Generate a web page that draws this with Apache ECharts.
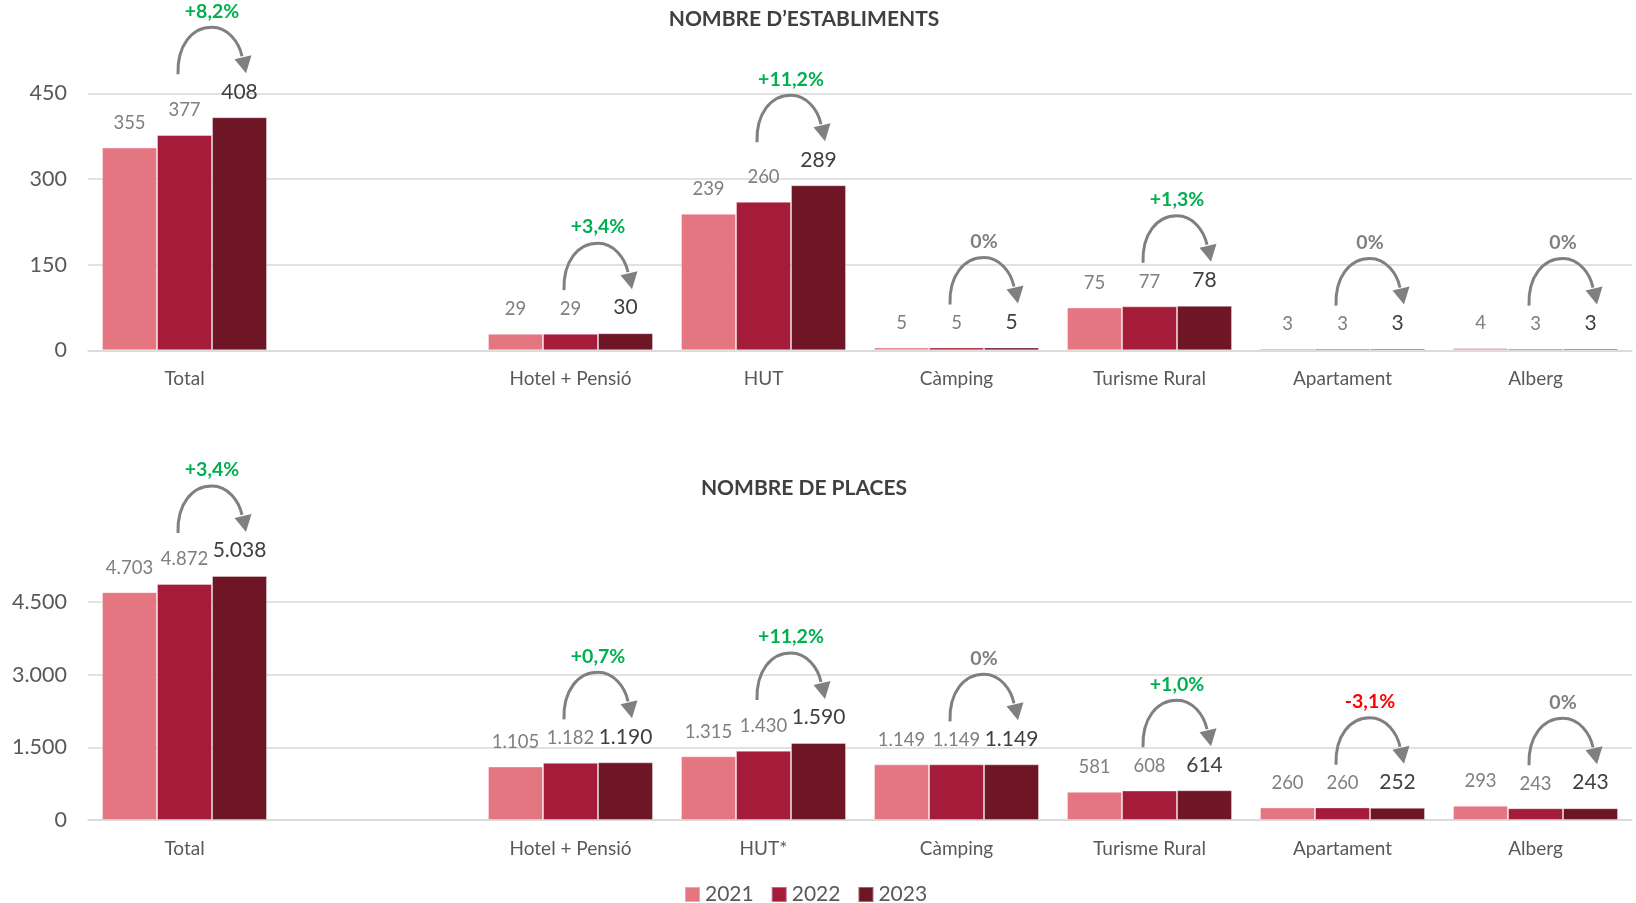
<!doctype html>
<html>
<head>
<meta charset="UTF-8">
<title>Nombre d'establiments i places</title>
<style>
  html, body { margin: 0; padding: 0; background: #fff; }
  #chart { width: 1636px; height: 903px; }
</style>
</head>
<body>
<div id="chart"></div>
<script src="https://cdn.jsdelivr.net/npm/echarts@6.0.0/dist/echarts.min.js"></script>
<script>
// dades
var years = ['2021', '2022', '2023'];
var catsEst = ['Total', '', 'Hotel + Pensió', 'HUT', 'Càmping', 'Turisme Rural', 'Apartament', 'Alberg'];
var catsPla = ['Total', '', 'Hotel + Pensió', 'HUT*', 'Càmping', 'Turisme Rural', 'Apartament', 'Alberg'];

var est2021 = [355, '-', 29, 239, 5, 75, 3, 4];
var est2022 = [377, '-', 29, 260, 5, 77, 3, 3];
var est2023 = [408, '-', 30, 289, 5, 78, 3, 3];

var pla2021 = [4703, '-', 1105, 1315, 1149, 581, 260, 293];
var pla2022 = [4872, '-', 1182, 1430, 1149, 608, 260, 243];
var pla2023 = [5038, '-', 1190, 1590, 1149, 614, 252, 243];

var ticksEst = [0, 150, 300, 450];
var ticksPla = [0, 1500, 3000, 4500];

var colors = ['#e47682', '#a51c3a', '#6e1526'];
var FONT = 'Lato, "Open Sans", sans-serif';
var catGap = 0.145;

function fmt(v) {
  return String(v).replace(/\B(?=(\d{3})+(?!\d))/g, '.');
}

// variacio 2022 -> 2023
function variacio(a, b) {
  var r = Math.round((b / a - 1) * 1000) / 10;
  if (r === 0) return { t: '0%', c: '#7f7f7f' };
  var s = Math.abs(r).toFixed(1).replace('.', ',');
  return r > 0 ? { t: '+' + s + '%', c: '#00b050' } : { t: '-' + s + '%', c: '#ff0000' };
}

function barSeries(idx, name, data, last) {
  return {
    name: name,
    type: 'bar',
    xAxisIndex: idx,
    yAxisIndex: idx,
    data: data,
    barGap: 0,
    barCategoryGap: (catGap * 100) + '%',
    clip: false,
    itemStyle: { color: colors[years.indexOf(name)], borderColor: 'rgba(255,255,255,0.35)', borderWidth: 1 },
    label: {
      show: true,
      position: 'top',
      distance: 15,
      color: last ? '#404040' : '#7f7f7f',
      fontSize: last ? 21 : 18.5,
      fontFamily: FONT,
      formatter: function (p) { return fmt(p.value); }
    }
  };
}

function arrowSeries(idx, v22, v23) {
  var data = [];
  v23.forEach(function (v, i) { if (v !== '-') data.push([i, v]); });
  return {
    type: 'custom',
    xAxisIndex: idx,
    yAxisIndex: idx,
    silent: true,
    clip: false,
    z: 10,
    data: data,
    renderItem: function (params, api) {
      var i = api.value(0);
      var pt = api.coord([i, api.value(1)]);
      var band = api.size([1, 0])[0];
      var barW = band * (1 - catGap) / 3;
      var px = pt[0] + barW / 2;
      var py = pt[1] - 90;
      var v = variacio(v22[i], v23[i]);
      var path = 'M' + (px - 34) + ' ' + (py + 47) +
        ' C' + (px - 35) + ' ' + (py + 18) + ' ' + (px - 20) + ' ' + py + ' ' + px + ' ' + py +
        ' C' + (px + 16) + ' ' + py + ' ' + (px + 27) + ' ' + (py + 15) + ' ' + (px + 30) + ' ' + (py + 29);
      return {
        type: 'group',
        children: [
          { type: 'path', shape: { pathData: path }, style: { stroke: '#808080', lineWidth: 3, fill: 'none' } },
          { type: 'polygon', shape: { points: [[px + 22.5, py + 32], [px + 39.5, py + 28], [px + 34, py + 46]] }, style: { fill: '#808080' } },
          { type: 'text', x: px, y: py - 16, style: { text: v.t, fill: v.c, font: 'bold 19.5px ' + FONT, align: 'center', verticalAlign: 'middle' } }
        ]
      };
    }
  };
}

function xAxis(idx, cats) {
  return {
    type: 'category',
    gridIndex: idx,
    data: cats,
    axisTick: { show: false },
    axisLine: { lineStyle: { color: '#d9d9d9', width: 1.5 } },
    axisLabel: { interval: 0, color: '#595959', fontSize: 19, fontFamily: FONT, margin: 19 }
  };
}

function yAxis(idx, ticks) {
  return {
    type: 'value',
    gridIndex: idx,
    min: ticks[0],
    max: ticks[ticks.length - 1],
    interval: ticks[1] - ticks[0],
    axisLine: { show: false },
    axisTick: { show: false },
    splitLine: { lineStyle: { color: '#d9d9d9', width: 1.5 } },
    axisLabel: { color: '#595959', fontSize: 21.5, fontFamily: FONT, margin: 21, formatter: fmt }
  };
}

var chart = echarts.init(document.getElementById('chart'));
chart.setOption({
  animation: false,
  textStyle: { fontFamily: FONT },
  grid: [
    { left: 88, top: 93.3, width: 1544, height: 257, outerBoundsMode: 'none' },
    { left: 88, top: 602, width: 1544, height: 218, outerBoundsMode: 'none' }
  ],
  graphic: [
    { type: 'text', x: 804, y: 19, style: { text: 'NOMBRE D\u2019ESTABLIMENTS', fill: '#404040', font: 'bold 21px ' + FONT, align: 'center', verticalAlign: 'middle' } },
    { type: 'text', x: 804, y: 488, style: { text: 'NOMBRE DE PLACES', fill: '#404040', font: 'bold 21px ' + FONT, align: 'center', verticalAlign: 'middle' } }
  ],
  legend: {
    data: years,
    left: 679,
    top: 879,
    icon: 'rect',
    itemWidth: 15,
    itemHeight: 15,
    itemGap: 17,
    textStyle: { color: '#595959', fontSize: 21, fontFamily: FONT }
  },
  xAxis: [xAxis(0, catsEst), xAxis(1, catsPla)],
  yAxis: [yAxis(0, ticksEst), yAxis(1, ticksPla)],
  series: [
    barSeries(0, '2021', est2021, false),
    barSeries(0, '2022', est2022, false),
    barSeries(0, '2023', est2023, true),
    barSeries(1, '2021', pla2021, false),
    barSeries(1, '2022', pla2022, false),
    barSeries(1, '2023', pla2023, true),
    arrowSeries(0, est2022, est2023),
    arrowSeries(1, pla2022, pla2023)
  ]
});
</script>
</body>
</html>
